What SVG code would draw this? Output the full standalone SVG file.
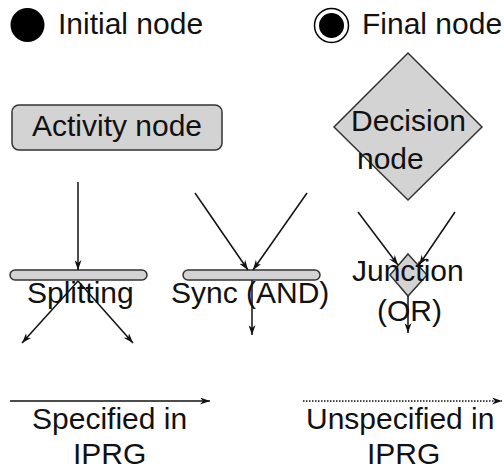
<svg xmlns="http://www.w3.org/2000/svg" width="504" height="470" viewBox="0 0 504 470">
<defs>
<style>
text{font-family:"Liberation Sans",Arial,sans-serif;font-size:30px;fill:#111}
.shape{fill:#d3d3d3;stroke:#333;stroke-width:1.5}
.edge{stroke:#111;stroke-width:1.5;fill:none;marker-end:url(#ah)}
.dot{stroke-dasharray:1.5 1.5}
</style>
<marker id="ah" viewBox="0 0 10 7" refX="10" refY="3.5" markerWidth="10" markerHeight="7" markerUnits="userSpaceOnUse" orient="auto">
<path d="M0,0 L10,3.5 L0,7 L3,3.5 z" fill="#111"/>
</marker>
</defs>
<rect width="504" height="470" fill="#fff"/>
<g id="initial">
<circle cx="27.5" cy="25" r="17" fill="#000"/>
<text x="58" y="34">Initial node</text>
</g>
<g id="final">
<circle cx="331.5" cy="25.5" r="17" fill="#fff" stroke="#000" stroke-width="1.5"/>
<circle cx="331.5" cy="25.5" r="12.5" fill="#000"/>
<text x="362" y="34">Final node</text>
</g>
<g id="activity">
<rect class="shape" x="12" y="105" width="210" height="45" rx="7"/>
<text x="117" y="136" text-anchor="middle">Activity node</text>
</g>
<g id="decision">
<polygon class="shape" points="408,53 482,127 408,200 334,127"/>
<text x="351" y="131">Decision</text>
<text x="357" y="169">node</text>
</g>
<g id="splitting">
<rect class="shape" x="10" y="270" width="137" height="10" rx="5"/>
<text x="27" y="303">Splitting</text>
</g>
<g id="sync">
<rect class="shape" x="183" y="270" width="137" height="10" rx="5"/>
<text x="171" y="303">Sync (AND)</text>
</g>
<g id="junction">
<polygon class="shape" points="408,254 427,275 408,296 390,275"/>
<text x="352" y="281">Junction</text>
<text x="377" y="321">(OR)</text>
</g>
<g id="legend">
<text x="32" y="429">Specified in</text>
<text x="73" y="464">IPRG</text>
<text x="306" y="429">Unspecified in</text>
<text x="367" y="464">IPRG</text>
</g>
<g id="connectors">
<line class="edge" x1="78" y1="182" x2="78" y2="270"/>
<line class="edge" x1="78" y1="281" x2="22" y2="343"/>
<line class="edge" x1="78" y1="281" x2="133" y2="343"/>
<line class="edge" x1="195" y1="193" x2="248" y2="270"/>
<line class="edge" x1="307" y1="193" x2="253" y2="270"/>
<line class="edge" x1="252" y1="280" x2="252" y2="335"/>
<line class="edge" x1="358" y1="212" x2="398" y2="265"/>
<line class="edge" x1="455" y1="212" x2="419" y2="265"/>
<line class="edge" x1="408" y1="296" x2="408" y2="333"/>
<line class="edge" x1="10" y1="401" x2="210" y2="401"/>
<line class="edge dot" x1="303" y1="401" x2="502" y2="401"/>
</g>
</svg>
